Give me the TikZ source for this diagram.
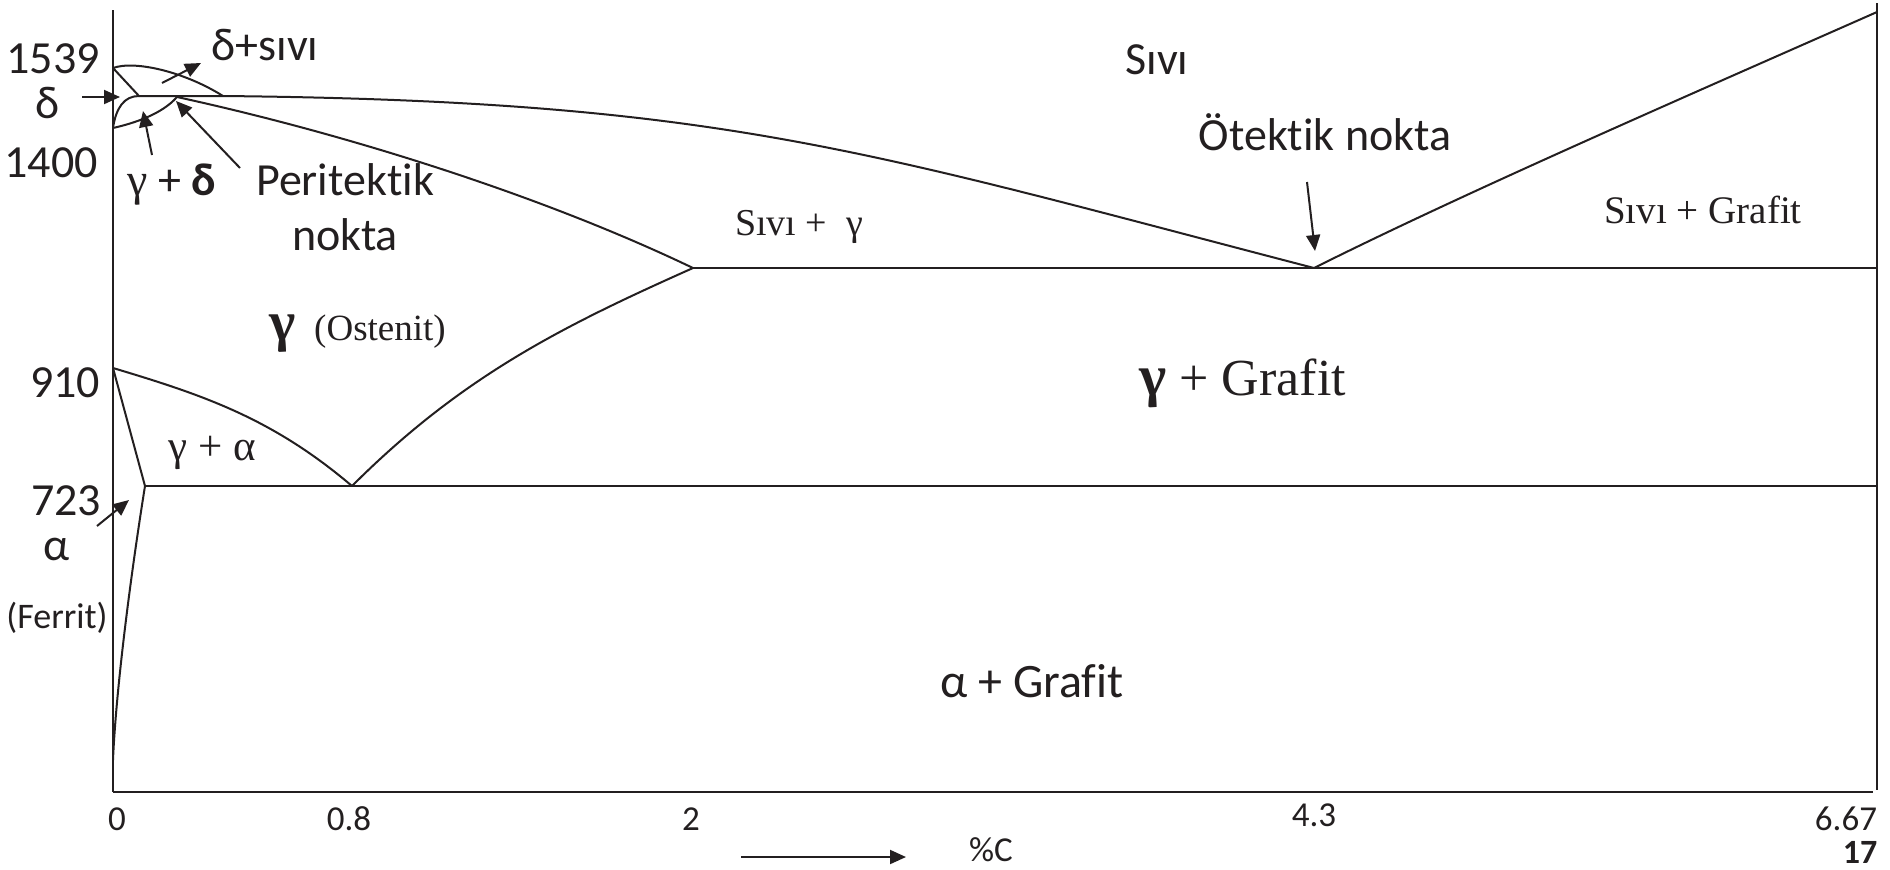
\documentclass[tikz,border=0pt]{standalone}
\usepackage{fontspec}
\setmainfont{Carlito}[Ligatures=NoCommon]
\newfontfamily\tnr{Liberation Serif}[Ligatures=NoCommon]
\usetikzlibrary{arrows.meta}
\definecolor{ink}{RGB}{35,31,32}
\tikzset{
  phase/.style={draw=ink, line width=1pt},
  isoline/.style={draw=ink, line width=1.3pt},
  ptr/.style={draw=ink, line width=1pt, -{Triangle[length=8pt,width=7pt]}},
  lbl/.style={text=ink, inner sep=0pt, anchor=base, font=\fontsize{23}{27}\selectfont},
  smlbl/.style={text=ink, inner sep=0pt, anchor=base, font=\fontsize{18}{22}\selectfont},
  axlbl/.style={text=ink, inner sep=0pt, anchor=base, font=\fontsize{17.5}{21}\selectfont},
  serlbl/.style={text=ink, inner sep=0pt, anchor=base, font=\tnr\fontsize{19}{23}\selectfont},
}
\begin{document}
\begin{tikzpicture}[x=0.5pt,y=-0.5pt]
\useasboundingbox (0,0) rectangle (1890,869);
% key points
\coordinate (Ytop) at (113,10);
\coordinate (O) at (113,792);
\coordinate (Bend) at (1873,792);
\coordinate (Rtop) at (1877,3);
\coordinate (Rbot) at (1877,790);
\coordinate (A) at (113,68);
\coordinate (N) at (113,128);
\coordinate (G) at (113,368);
\coordinate (H) at (139,96);
\coordinate (J) at (177,97);
\coordinate (B) at (223,96);
\coordinate (E) at (693,268);
\coordinate (C) at (1314,268);
\coordinate (S) at (352,486);
\coordinate (P) at (145,486);
\coordinate (LT) at (1877,12);
\coordinate (Ebr) at (1877,268);
\coordinate (Sbr) at (1877,486);
\coordinate (Alow) at (113,760);
% frame
\draw[phase] (Ytop) -- (O);
\draw[isoline] (O) -- (Bend);
\draw[phase] (Rtop) -- (Rbot);
% delta region
\draw[phase] (A) .. controls (135,60) and (185,72) .. (B);
\draw[phase] (A) -- (H);
\draw[phase] (N) .. controls (116,108) and (124,96) .. (H);
\draw[phase] (N) .. controls (135,123) and (162,114) .. (J);
% liquidus
\draw[phase] (H) -- (B) .. controls (723,101) and (864,151) .. (C);
\draw[phase] (C) .. controls (1464,193) and (1680,99) .. (LT);
% solidus
\draw[phase] (J) .. controls (347,134) and (543,196) .. (E);
% eutectic and eutectoid lines
\draw[isoline] (E) -- (Ebr);
\draw[isoline] (P) -- (Sbr);
% A3, Acm
\draw[phase] (G) .. controls (203,395) and (272,418) .. (S);
\draw[phase] (S) .. controls (462,376) and (563,326) .. (E);
% ferrite
\draw[phase] (G) -- (P);
\draw[phase] (P) .. controls (130,580) and (116,690) .. (Alow);
% arrows
\coordinate (ad0) at (82,97);   \coordinate (ad1) at (120,97);
\coordinate (as0) at (162,83);  \coordinate (as1) at (201,63);
\coordinate (ag0) at (152,155); \coordinate (ag1) at (143,111);
\coordinate (ap0) at (240,168); \coordinate (ap1) at (176,101);
\coordinate (ae0) at (1307,182);\coordinate (ae1) at (1315,251);
\coordinate (aa0) at (97,526);  \coordinate (aa1) at (129,500);
\coordinate (ac0) at (741,857); \coordinate (ac1) at (906,857);
\draw[ptr] (ad0) -- (ad1);
\draw[ptr] (as0) -- (as1);
\draw[ptr] (ag0) -- (ag1);
\draw[ptr] (ap0) -- (ap1);
\draw[ptr] (ae0) -- (ae1);
\draw[ptr] (aa0) -- (aa1);
\draw[ptr] (ac0) -- (ac1);
% labels left
\node[lbl] (t1539) at (53,73) {1539};
\node[lbl] (tdelta) at (48,118) {δ};
\node[lbl] (t1400) at (51,177) {1400};
\node[lbl] (tdl) at (265,60) {δ+sıvı};
\node[lbl] (tgd) at (172,195) {{\tnr γ} + {\bfseries δ}};
\node[lbl] (tper) at (345,195) {Peritektik};
\node[lbl] (tnok) at (345,250) {nokta};
\node[lbl] (t910) at (65,397) {910};
\node[lbl] (t723) at (66,515) {723};
\node[lbl] (talpha) at (57,560) {α};
\node[smlbl] (tfer) at (57,628) {(Ferrit)};
% phase labels
\node[serlbl, font=\tnr\fontsize{21.5}{25}\selectfont] (tga) at (212,460) {γ + α};
\node[serlbl, anchor=base, font=\tnr\bfseries\fontsize{28}{32}\selectfont] (tgbig) at (283,340) {γ};
\node[serlbl, font=\tnr\fontsize{18.5}{22}\selectfont] (tost) at (380,340) {(Ostenit)};
\node[serlbl] (tsg) at (799,235) {Sıvı +\ \ γ};
\node[lbl] (tsivi) at (1157,74) {Sıvı};
\node[lbl] (toe) at (1325,150) {Ötektik nokta};
\node[serlbl, font=\tnr\fontsize{19.5}{24}\selectfont] (tsgr) at (1703,223) {Sıvı +\ Grafit};
\node[serlbl, anchor=base west, font=\tnr\fontsize{26}{30}\selectfont] (tgg) at (1139,395) {{\bfseries\fontsize{29}{32}\selectfont γ} + Grafit};
\node[lbl, font=\fontsize{24}{28}\selectfont] (tag) at (1032,697) {α + Grafit};
% axis labels
\node[axlbl] (x0) at (117,830) {0};
\node[axlbl] (x08) at (349,830) {0.8};
\node[axlbl] (x2) at (691,830) {2};
\node[axlbl] (x43) at (1314,826) {4.3};
\node[axlbl] (x667) at (1846,830) {6.67};
\node[axlbl] (xc) at (991,861) {\%C};
\node[axlbl, font=\bfseries\fontsize{17}{21}\selectfont] (pg) at (1860,863) {17};
\end{tikzpicture}
\end{document}
